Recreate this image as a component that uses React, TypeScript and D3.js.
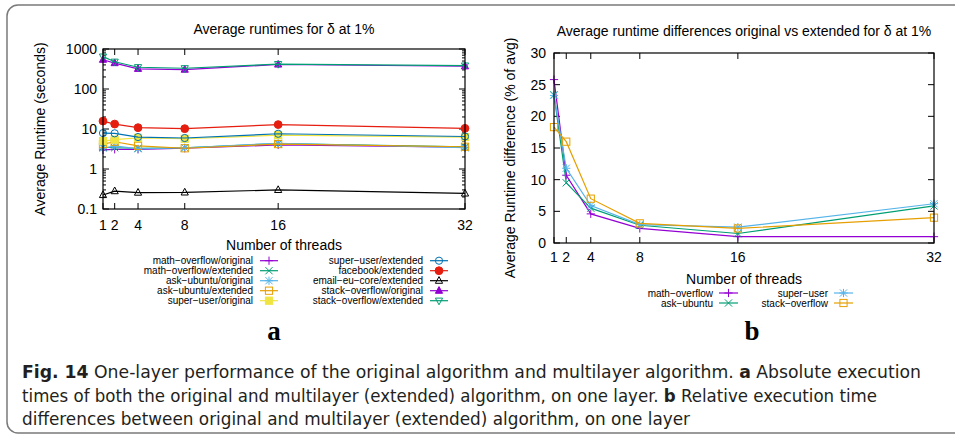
import React from 'react';
import * as d3 from 'd3';

const W = 955;
const H = 437;

// x values (threads) shared by both panels
const threads = [1, 2, 4, 8, 16, 32];

// panel a: average runtimes (seconds), log scale
const mathOverflowOriginal = [3.0, 3.1, 3.1, 3.3, 4.0, 3.5];
const mathOverflowExtended = [3.5, 3.4, 3.3, 3.4, 4.3, 3.6];
const askUbuntuOriginal = [3.3, 3.8, 3.2, 3.4, 4.4, 3.4];
const askUbuntuExtended = [4.2, 4.8, 3.8, 3.3, 4.2, 3.6];
const superUserOriginal = [5.0, 5.4, 6.0, 5.7, 7.0, 6.3];
const superUserExtended = [7.9, 7.8, 6.3, 5.95, 7.6, 6.5];
const facebookExtended = [15.8, 13.3, 10.8, 10.2, 12.9, 10.4];
const emailEuCoreExtended = [0.224, 0.28, 0.257, 0.26, 0.3, 0.245];
const stackOverflowOriginal = [540, 445, 320, 305, 410, 370];
const stackOverflowExtended = [645, 480, 350, 330, 420, 385];

const logTicks = [0.1, 1, 10, 100, 1000];
const logTickLabels = ['0.1', '1', '10', '100', '1000'];

// panel b: runtime differences (% of avg)
const diffMathOverflow = [25.8, 10.7, 4.6, 2.3, 1.0, 1.0];
const diffAskUbuntu = [23.4, 9.5, 5.5, 2.8, 1.5, 5.85];
const diffSuperUser = [23.3, 11.8, 5.9, 2.9, 2.5, 6.2];
const diffStackOverflow = [18.3, 16.0, 7.0, 3.1, 2.3, 4.0];

const diffTicks = [0, 5, 10, 15, 20, 25, 30];

const PURPLE = '#9400d3';
const GREEN = '#009e73';
const SKY = '#56b4e9';
const ORANGE = '#e69f00';
const YELLOW = '#f0e442';
const BLUE = '#0072b2';
const RED = '#e51e10';
const BLACK = '#000000';

type Marker = 'plus' | 'cross' | 'star' | 'square' | 'fsquare' | 'circle' | 'fcircle' | 'tri' | 'ftri' | 'tridown';

const seriesA: { name: string; values: number[]; color: string; marker: Marker }[] = [
  { name: 'math−overflow/original', values: mathOverflowOriginal, color: PURPLE, marker: 'plus' },
  { name: 'math−overflow/extended', values: mathOverflowExtended, color: GREEN, marker: 'cross' },
  { name: 'ask−ubuntu/original', values: askUbuntuOriginal, color: SKY, marker: 'star' },
  { name: 'ask−ubuntu/extended', values: askUbuntuExtended, color: ORANGE, marker: 'square' },
  { name: 'super−user/original', values: superUserOriginal, color: YELLOW, marker: 'fsquare' },
  { name: 'super−user/extended', values: superUserExtended, color: BLUE, marker: 'circle' },
  { name: 'facebook/extended', values: facebookExtended, color: RED, marker: 'fcircle' },
  { name: 'email−eu−core/extended', values: emailEuCoreExtended, color: BLACK, marker: 'tri' },
  { name: 'stack−overflow/original', values: stackOverflowOriginal, color: PURPLE, marker: 'ftri' },
  { name: 'stack−overflow/extended', values: stackOverflowExtended, color: GREEN, marker: 'tridown' },
];

const seriesB: { name: string; values: number[]; color: string; marker: Marker }[] = [
  { name: 'math−overflow', values: diffMathOverflow, color: PURPLE, marker: 'plus' },
  { name: 'ask−ubuntu', values: diffAskUbuntu, color: GREEN, marker: 'cross' },
  { name: 'super−user', values: diffSuperUser, color: SKY, marker: 'star' },
  { name: 'stack−overflow', values: diffStackOverflow, color: ORANGE, marker: 'square' },
];

const FONT = '"Liberation Sans", Arial, sans-serif';

function Point({ x, y, type, color }: { x: number; y: number; type: Marker; color: string }) {
  const s = 3.6;
  const common = { stroke: color, strokeWidth: 1 };
  let el: React.ReactNode = null;
  switch (type) {
    case 'plus':
      el = <path d={`M${-s - 0.5},0H${s + 0.5}M0,${-s - 0.5}V${s + 0.5}`} fill="none" {...common} />;
      break;
    case 'cross':
      el = <path d={`M${-s},${-s}L${s},${s}M${-s},${s}L${s},${-s}`} fill="none" {...common} />;
      break;
    case 'star':
      el = <path d={`M${-s},${-s}L${s},${s}M${-s},${s}L${s},${-s}M${-s - 0.5},0H${s + 0.5}M0,${-s - 0.5}V${s + 0.5}`} fill="none" {...common} />;
      break;
    case 'square':
      el = <rect x={-s} y={-s} width={2 * s} height={2 * s} fill="none" {...common} />;
      break;
    case 'fsquare':
      el = <rect x={-s} y={-s} width={2 * s} height={2 * s} fill={color} {...common} />;
      break;
    case 'circle':
      el = <circle r={s} fill="none" {...common} />;
      break;
    case 'fcircle':
      el = <circle r={s + 0.3} fill={color} {...common} />;
      break;
    case 'tri':
      el = <path d={`M0,${-s - 0.5}L${s},${s - 1}L${-s},${s - 1}Z`} fill="none" {...common} />;
      break;
    case 'ftri':
      el = <path d={`M0,${-s - 0.5}L${s},${s - 1}L${-s},${s - 1}Z`} fill={color} {...common} />;
      break;
    case 'tridown':
      el = <path d={`M0,${s + 0.5}L${s},${-s + 1}L${-s},${-s + 1}Z`} fill="none" {...common} />;
      break;
  }
  return <g transform={`translate(${x},${y})`}>{el}</g>;
}

function Frame({ x0, x1, y0, y1 }: { x0: number; x1: number; y0: number; y1: number }) {
  return <rect x={x0} y={y0} width={x1 - x0} height={y1 - y0} fill="none" stroke="#000" strokeWidth={1.2} />;
}

function PanelA() {
  const x = d3.scaleLinear().domain([1, 32]).range([103, 465]);
  const y = d3.scaleLog().domain([0.1, 1000]).range([209, 49]);
  const line = d3
    .line<number>()
    .x((_, i) => x(threads[i]))
    .y(d => y(d));

  const minor: number[] = [];
  logTicks.slice(0, -1).forEach(t => {
    for (let k = 2; k <= 9; k++) minor.push(t * k);
  });

  const [x0, x1] = x.range();
  const [y0, y1] = [y(1000), y(0.1)];

  return (
    <g fontFamily={FONT}>
      <text x={(x0 + x1) / 2} y={34} textAnchor="middle" fontSize={14}>
        Average runtimes for δ at 1%
      </text>
      {/* ticks */}
      {logTicks.map((t, i) => (
        <g key={t}>
          <line x1={x0} x2={x0 + 6} y1={y(t)} y2={y(t)} stroke="#000" />
          <line x1={x1} x2={x1 - 6} y1={y(t)} y2={y(t)} stroke="#000" />
          <text x={x0 - 6} y={y(t) + 5} textAnchor="end" fontSize={14}>
            {logTickLabels[i]}
          </text>
        </g>
      ))}
      {minor.map(t => (
        <g key={'m' + t}>
          <line x1={x0} x2={x0 + 3} y1={y(t)} y2={y(t)} stroke="#000" />
          <line x1={x1} x2={x1 - 3} y1={y(t)} y2={y(t)} stroke="#000" />
        </g>
      ))}
      {threads.map(t => (
        <g key={'x' + t}>
          <line x1={x(t)} x2={x(t)} y1={y1} y2={y1 - 6} stroke="#000" />
          <line x1={x(t)} x2={x(t)} y1={y0} y2={y0 + 6} stroke="#000" />
          <text x={x(t)} y={230} textAnchor="middle" fontSize={14}>
            {t}
          </text>
        </g>
      ))}
      {seriesA.map(s => (
        <g key={s.name}>
          <path d={line(s.values) || ''} fill="none" stroke={s.color} strokeWidth={1.2} />
          {s.values.map((v, i) => (
            <Point key={i} x={x(threads[i])} y={y(v)} type={s.marker} color={s.color} />
          ))}
        </g>
      ))}
      <Frame x0={x0} x1={x1} y0={y0} y1={y1} />
      <text transform={`translate(45,${(y0 + y1) / 2}) rotate(-90)`} textAnchor="middle" fontSize={14}>
        Average Runtime (seconds)
      </text>
      <text x={(x0 + x1) / 2} y={250} textAnchor="middle" fontSize={14}>
        Number of threads
      </text>
      {seriesA.map((s, i) => {
        const col = i < 5 ? 0 : 1;
        const row = i % 5;
        const tx = col === 0 ? 253 : 423;
        const cy = 260.7 + row * 10;
        return (
          <g key={'lg' + s.name}>
            <text x={tx} y={cy + 3.6} textAnchor="end" fontSize={10}>
              {s.name}
            </text>
            <line x1={tx + 7} x2={tx + 25} y1={cy} y2={cy} stroke={s.color} strokeWidth={1.2} />
            <Point x={tx + 16} y={cy} type={s.marker} color={s.color} />
          </g>
        );
      })}
      <text x={274} y={340} textAnchor="middle" fontSize={27} fontWeight="bold" fontFamily='"Liberation Serif", "Times New Roman", serif'>
        a
      </text>
    </g>
  );
}

function PanelB() {
  const x = d3.scaleLinear().domain([1, 32]).range([554, 934]);
  const y = d3.scaleLinear().domain([0, 30]).range([243, 53]);
  const line = d3
    .line<number>()
    .x((_, i) => x(threads[i]))
    .y(d => y(d));
  const [x0, x1] = x.range();
  const [y0, y1] = [y(30), y(0)];

  return (
    <g fontFamily={FONT}>
      <text x={(x0 + x1) / 2} y={36} textAnchor="middle" fontSize={14}>
        Average runtime differences original vs extended for δ at 1%
      </text>
      {diffTicks.map(t => (
        <g key={t}>
          <line x1={x0} x2={x0 + 6} y1={y(t)} y2={y(t)} stroke="#000" />
          <line x1={x1} x2={x1 - 6} y1={y(t)} y2={y(t)} stroke="#000" />
          <text x={x0 - 8} y={y(t) + 5} textAnchor="end" fontSize={14}>
            {t}
          </text>
        </g>
      ))}
      {threads.map(t => (
        <g key={'x' + t}>
          <line x1={x(t)} x2={x(t)} y1={y1} y2={y1 - 6} stroke="#000" />
          <line x1={x(t)} x2={x(t)} y1={y0} y2={y0 + 6} stroke="#000" />
          <text x={x(t)} y={262} textAnchor="middle" fontSize={14}>
            {t}
          </text>
        </g>
      ))}
      {seriesB.map(s => (
        <g key={s.name}>
          <path d={line(s.values) || ''} fill="none" stroke={s.color} strokeWidth={1.2} />
          {s.values.map((v, i) => (
            <Point key={i} x={x(threads[i])} y={y(v)} type={s.marker} color={s.color} />
          ))}
        </g>
      ))}
      <Frame x0={x0} x1={x1} y0={y0} y1={y1} />
      <text transform={`translate(515,${(y0 + y1) / 2 + 10}) rotate(-90)`} textAnchor="middle" fontSize={14}>
        Average Runtime difference (% of avg)
      </text>
      <text x={(x0 + x1) / 2} y={284} textAnchor="middle" fontSize={14}>
        Number of threads
      </text>
      {seriesB.map((s, i) => {
        const col = i < 2 ? 0 : 1;
        const row = i % 2;
        const tx = col === 0 ? 713 : 828;
        const cy = 293 + row * 10;
        return (
          <g key={'lg' + s.name}>
            <text x={tx} y={cy + 3.6} textAnchor="end" fontSize={10}>
              {s.name}
            </text>
            <line x1={tx + 6} x2={tx + 25} y1={cy} y2={cy} stroke={s.color} strokeWidth={1.2} />
            <Point x={tx + 15.5} y={cy} type={s.marker} color={s.color} />
          </g>
        );
      })}
      <text x={752} y={340} textAnchor="middle" fontSize={27} fontWeight="bold" fontFamily='"Liberation Serif", "Times New Roman", serif'>
        b
      </text>
    </g>
  );
}

function Caption() {
  const cf = '"Liberation Sans Narrow", "DejaVu Sans Condensed", "Roboto", sans-serif';
  const col = '#231f20';
  return (
    <g fontFamily={cf} fontSize={17} fill={col}>
      <text x={22} y={378} textLength={899} lengthAdjust="spacingAndGlyphs">
        <tspan fontWeight="bold">Fig. 14</tspan>
        {'  One-layer performance of the original algorithm and multilayer algorithm. '}
        <tspan fontWeight="bold">a</tspan>
        {' Absolute execution'}
      </text>
      <text x={22} y={402} textLength={855} lengthAdjust="spacingAndGlyphs">
        {'times of both the original and multilayer (extended) algorithm, on one layer. '}
        <tspan fontWeight="bold">b</tspan>
        {' Relative execution time'}
      </text>
      <text x={22} y={425} textLength={668} lengthAdjust="spacingAndGlyphs">
        differences between original and multilayer (extended) algorithm, on one layer
      </text>
    </g>
  );
}

export default function App() {
  return (
    <div style={{ position: 'absolute', left: 0, top: 0 }}>
      <svg width={W} height={H} style={{ display: 'block', background: '#fff' }}>
        <rect x={7} y={5} width={1000} height={428} rx={11} fill="none" stroke="#7a7a7a" strokeWidth={1.5} />
        <PanelA />
        <PanelB />
        <Caption />
      </svg>
    </div>
  );
}
